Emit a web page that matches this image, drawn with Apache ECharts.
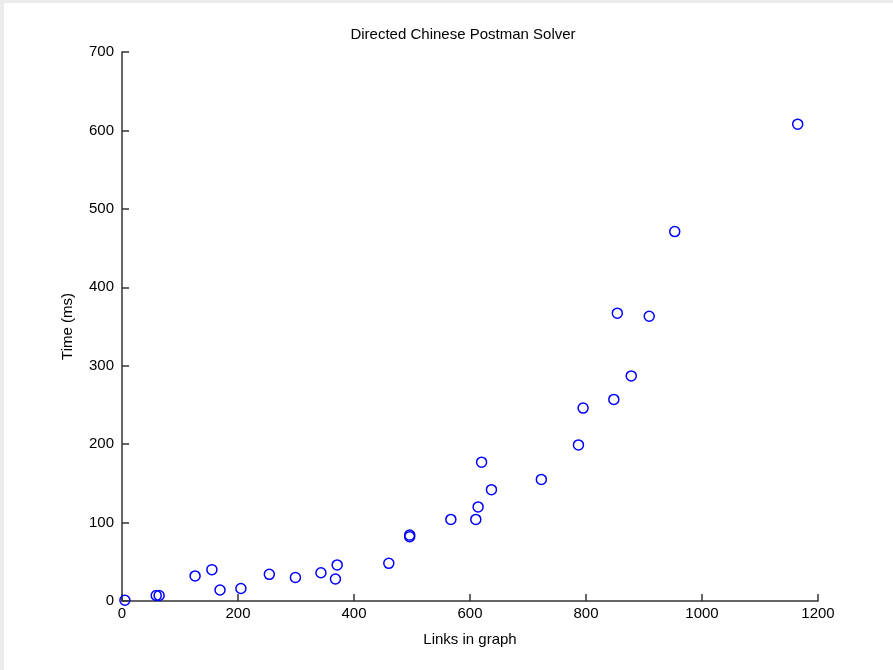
<!DOCTYPE html>
<html>
<head>
<meta charset="utf-8">
<script src="https://cdn.jsdelivr.net/npm/echarts@6/dist/echarts.min.js"></script>
<style>
html,body{margin:0;padding:0;background:#ebebeb;}
#wrap{position:absolute;left:0;top:0;width:893px;height:670px;background:#ebebeb;}
#chart{position:absolute;left:4px;top:3px;width:889px;height:667px;background:#fff;}
</style>
</head>
<body>
<div id="wrap"><div id="chart"></div></div>
<script>
// Data
const links = [5, 59, 64, 126, 155, 169, 205, 254, 299, 343, 368, 371, 460, 496, 496, 567, 610, 614, 620, 637, 723, 787, 795, 848, 854, 878, 909, 953, 1165];
const timeMs = [1, 7, 7, 32, 40, 14, 16, 34, 30, 36, 28, 46, 48, 84, 82, 104, 104, 120, 177, 142, 155, 199, 246, 257, 367, 287, 363, 471, 608];
const titleText = 'Directed Chinese Postman Solver';
const xName = 'Links in graph';
const yName = 'Time (ms)';

const points = links.map((x, i) => [x, timeMs[i]]);
const chart = echarts.init(document.getElementById('chart'));
const font = 'Liberation Sans, Arial, sans-serif';
const axisCol = '#333333';
chart.setOption({
  animation: false,
  backgroundColor: '#ffffff',
  title: {
    text: titleText,
    left: 454, top: 19, textAlign: 'center',
    textStyle: {fontFamily: font, fontSize: 15, fontWeight: 'normal', color: '#000'}
  },
  grid: {left: 118, right: 75, top: 49, bottom: 69},
  xAxis: {
    type: 'value', min: 0, max: 1200, interval: 200,
    name: xName, nameLocation: 'middle', nameGap: 31,
    nameTextStyle: {fontFamily: font, fontSize: 15, color: '#000'},
    axisLine: {show: true, onZero: false, lineStyle: {color: axisCol, width: 1.5}},
    axisTick: {show: true, inside: true, length: 7, lineStyle: {color: axisCol, width: 1.5}},
    axisLabel: {fontFamily: font, fontSize: 15, color: '#000', margin: 5, formatter: v => String(v)},
    splitLine: {show: false}
  },
  yAxis: {
    type: 'value', min: 0, max: 700, interval: 100,
    name: yName, nameLocation: 'middle', nameGap: 47, nameRotate: 90,
    nameTextStyle: {fontFamily: font, fontSize: 15, color: '#000'},
    axisLine: {show: true, onZero: false, lineStyle: {color: axisCol, width: 1.5}},
    axisTick: {show: true, inside: true, length: 7, lineStyle: {color: axisCol, width: 1.5}},
    axisLabel: {fontFamily: font, fontSize: 15, color: '#000', margin: 8, formatter: v => String(v)},
    splitLine: {show: false}
  },
  series: [{
    type: 'scatter',
    data: points,
    symbol: 'circle',
    symbolSize: 10,
    itemStyle: {color: 'rgba(0,0,0,0)', borderColor: '#0000ff', borderWidth: 1.5, opacity: 1},
    emphasis: {disabled: true}
  }]
});
</script>
</body>
</html>
